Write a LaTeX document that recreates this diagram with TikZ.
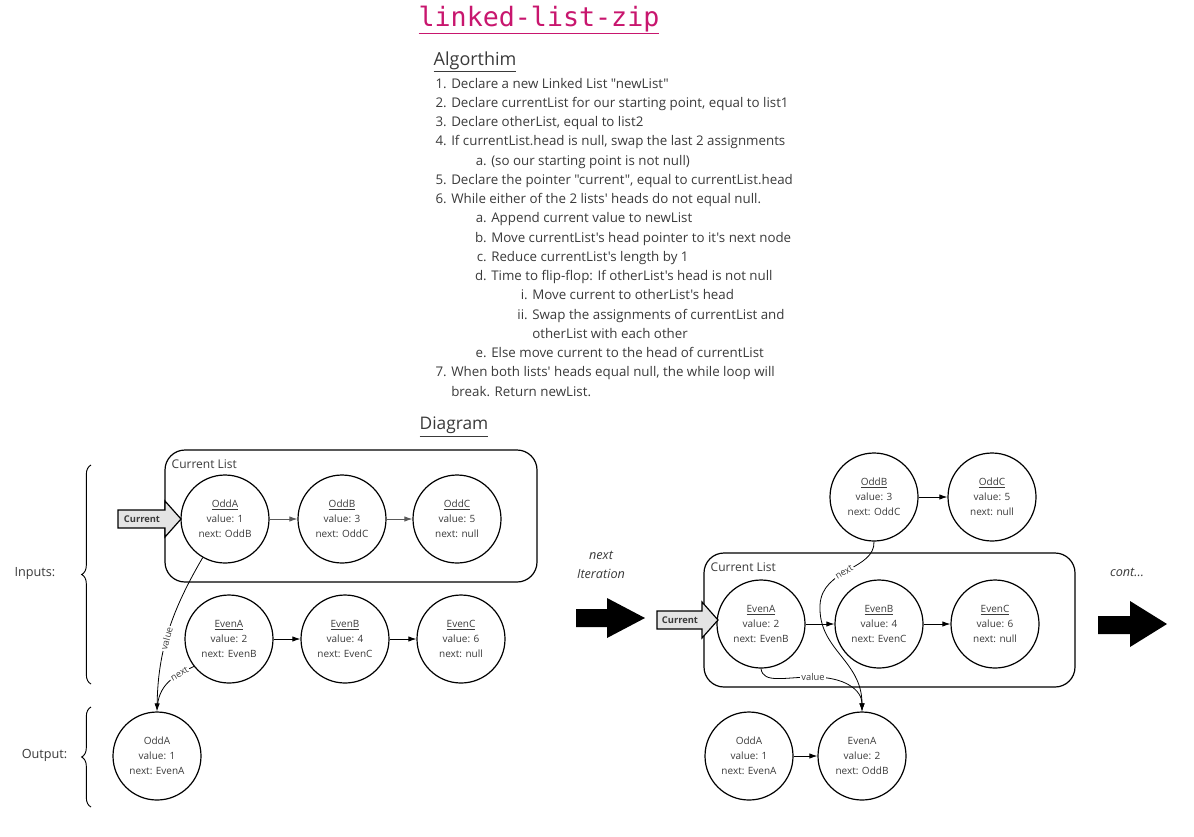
\documentclass[tikz,border=0pt]{standalone}
\usepackage{fontspec}
\setmainfont{Open Sans}[Ligatures=TeXOff]
\newfontfamily\titlefont{DejaVu Sans Mono}
\usetikzlibrary{arrows.meta,decorations.pathreplacing}
\definecolor{titlepink}{HTML}{C8166E}
\definecolor{textgrey}{HTML}{3A3A3A}
\definecolor{arrowgrey}{HTML}{E4E4E4}

\tikzset{
  lnode/.style={circle,draw,line width=0.9pt,minimum size=66pt,inner sep=0pt,align=center,
    text=textgrey,font=\fontsize{7.5}{11.25}\selectfont},
  link/.style={-{Latex[length=6pt,width=4pt]},line width=0.6pt},
  greylink/.style={link,draw=black!65},
  ptr/.style={-{Latex[length=6pt,width=4pt]},line width=0.6pt},
  ptrlabel/.style={sloped,fill=white,inner sep=1pt,text=textgrey,font=\fontsize{7}{8}\selectfont},
  listbox/.style={draw,line width=0.9pt,rounded corners=15pt},
  boxlabel/.style={anchor=west,text=textgrey,font=\fontsize{9}{10}\selectfont},
  steptext/.style={anchor=base west,inner sep=0pt,text=textgrey,font=\fontsize{10}{11}\selectfont},
  stepnum/.style={anchor=base east,inner sep=0pt,text=textgrey,font=\fontsize{10}{11}\selectfont},
  curtext/.style={inner sep=0pt,font=\bfseries\fontsize{7}{8}\selectfont,text=textgrey},
  sidetext/.style={anchor=east,text=textgrey,font=\fontsize{9.5}{10}\selectfont},
  brace/.style={decorate,decoration={brace,amplitude=7pt},line width=0.7pt}
}

\begin{document}
\begin{tikzpicture}[x=0.75pt,y=-0.75pt]
\useasboundingbox (0,0) rectangle (1194,836);

% headings
\node[text=titlepink,font=\titlefont\fontsize{20}{24}\selectfont] (title) at (539,20) {\underline{linked-list-zip}};
\node[anchor=west,text=textgrey,font=\fontsize{13.5}{16}\selectfont] (algo) at (429,62) {\underline{Algorthim}};
\node[text=textgrey,font=\fontsize{13}{16}\selectfont] (diag) at (454,427) {\underline{Diagram}};

% algorithm steps
\foreach \n/\y/\t [count=\i] in {
    1./88/{Declare a new Linked List "newList"},
    2./107.25/{Declare currentList for our starting point, equal to list1},
    3./126.5/{Declare otherList, equal to list2},
    4./145.75/{If currentList.head is null, swap the last 2 assignments},
    5./184.25/{Declare the pointer "current", equal to currentList.head},
    6./203.5/{While either of the 2 lists' heads do not equal null.},
    7./376.75/{When both lists' heads equal null, the while loop will}} {
  \node[stepnum] (n\i) at (447,\y) {\n};
  \node[steptext] (s\i) at (451,\y) {\t};
}
\node[steptext] (s8) at (451,396) {break. Return newList.};

\foreach \n/\y/\t [count=\i] in {
    a./165/{(so our starting point is not null)},
    a./222.75/{Append current value to newList},
    b./242/{Move currentList's head pointer to it's next node},
    c./261.25/{Reduce currentList's length by 1},
    d./280.5/{Time to flip-flop: If otherList's head is not null},
    e./357.5/{Else move current to the head of currentList}} {
  \node[stepnum] (m\i) at (487,\y) {\n};
  \node[steptext] (r\i) at (491,\y) {\t};
}
\node[stepnum] (k1) at (528,299.75) {i.};
\node[steptext] (q1) at (532,299.75) {Move current to otherList's head};
\node[stepnum] (k2) at (528,319) {ii.};
\node[steptext] (q2) at (532,319) {Swap the assignments of currentList and};
\node[steptext] (q3) at (532,338.25) {otherList with each other};

% inputs / output
\draw[brace] (91,684) -- (91,465);
\draw[brace] (91,807) -- (91,707);
\node[sidetext] (inputs) at (60,573) {Inputs:};
\node[sidetext] (output) at (72,755) {Output:};

% first iteration
\draw[listbox] (165,450) rectangle (537,582);
\node[boxlabel] (clistA) at (167,464) {Current List};

\node[lnode] (oddA) at (225,519) {\underline{OddA}\\value: 1\\next: OddB};
\node[lnode] (oddB) at (342,519) {\underline{OddB}\\value: 3\\next: OddC};
\node[lnode] (oddC) at (457,519) {\underline{OddC}\\value: 5\\next: null};
\node[lnode] (evenA) at (229,639) {\underline{EvenA}\\value: 2\\next: EvenB};
\node[lnode] (evenB) at (345,639) {\underline{EvenB}\\value: 4\\next: EvenC};
\node[lnode] (evenC) at (461,639) {\underline{EvenC}\\value: 6\\next: null};
\node[lnode] (outOddA) at (157,756) {OddA\\value: 1\\next: EvenA};

\draw[greylink] (oddA) -- (oddB);
\draw[greylink] (oddB) -- (oddC);
\draw[link] (evenA) -- (evenB);
\draw[link] (evenB) -- (evenC);

\draw[ptr] (oddA.240) .. controls (172,610) and (158,650) .. node[ptrlabel,pos=0.55] {value} (outOddA.north);
\draw[line width=0.6pt] (evenA.218) .. controls (178,674) and (160,682) .. node[ptrlabel,pos=0.3] {next} (157.5,705);

\filldraw[fill=arrowgrey,line width=0.9pt] (118,510) -- (165,510) -- (165,501) -- (181,519)
  -- (165,537) -- (165,528) -- (118,528) -- cycle;
\node[curtext] (curA) at (142,519) {Current};

% between iterations
\node[align=center,text=textgrey,font=\itshape\fontsize{9.5}{14}\selectfont] (nextit) at (601,565) {next\\Iteration};
\fill (576,609) -- (607,609) -- (607,598) -- (645,618) -- (607,638) -- (607,627) -- (576,627) -- cycle;

% second iteration
\draw[listbox] (704,553) rectangle (1075,687);
\node[boxlabel] (clistB) at (706,567) {Current List};

\node[lnode] (oddB2) at (874,497) {\underline{OddB}\\value: 3\\next: OddC};
\node[lnode] (oddC2) at (992,497) {\underline{OddC}\\value: 5\\next: null};
\node[lnode] (evenA2) at (761,624) {\underline{EvenA}\\value: 2\\next: EvenB};
\node[lnode] (evenB2) at (879,624) {\underline{EvenB}\\value: 4\\next: EvenC};
\node[lnode] (evenC2) at (995,624) {\underline{EvenC}\\value: 6\\next: null};
\node[lnode] (outOddA2) at (749,756) {OddA\\value: 1\\next: EvenA};
\node[lnode] (outEvenA2) at (862,756) {EvenA\\value: 2\\next: OddB};

\draw[link] (oddB2) -- (oddC2);
\draw[link] (evenA2) -- (evenB2);
\draw[link] (evenB2) -- (evenC2);
\draw[link] (outOddA2) -- (outEvenA2);

\draw[ptr] (evenA2.south) .. controls (763,684) and (785,677) .. (813,677) node[ptrlabel] {value}
  .. controls (845,677) and (862,690) .. (outEvenA2.north);
\draw[ptr] (oddB2.south) .. controls (875,570) and (822,568) .. node[ptrlabel,pos=0.55] {next}
  (820,605) .. controls (818,650) and (862,660) .. (outEvenA2.north);

\filldraw[fill=arrowgrey,line width=0.9pt] (657,611) -- (702,611) -- (702,602) -- (718,620)
  -- (702,638) -- (702,629) -- (657,629) -- cycle;
\node[curtext] (curB) at (680,620) {Current};

\node[text=textgrey,font=\itshape\fontsize{9.5}{10}\selectfont] (cont) at (1127,572) {cont...};
\fill (1098,616) -- (1130,616) -- (1130,601) -- (1167,624) -- (1130,647) -- (1130,634) -- (1098,634) -- cycle;
\end{tikzpicture}
\end{document}
